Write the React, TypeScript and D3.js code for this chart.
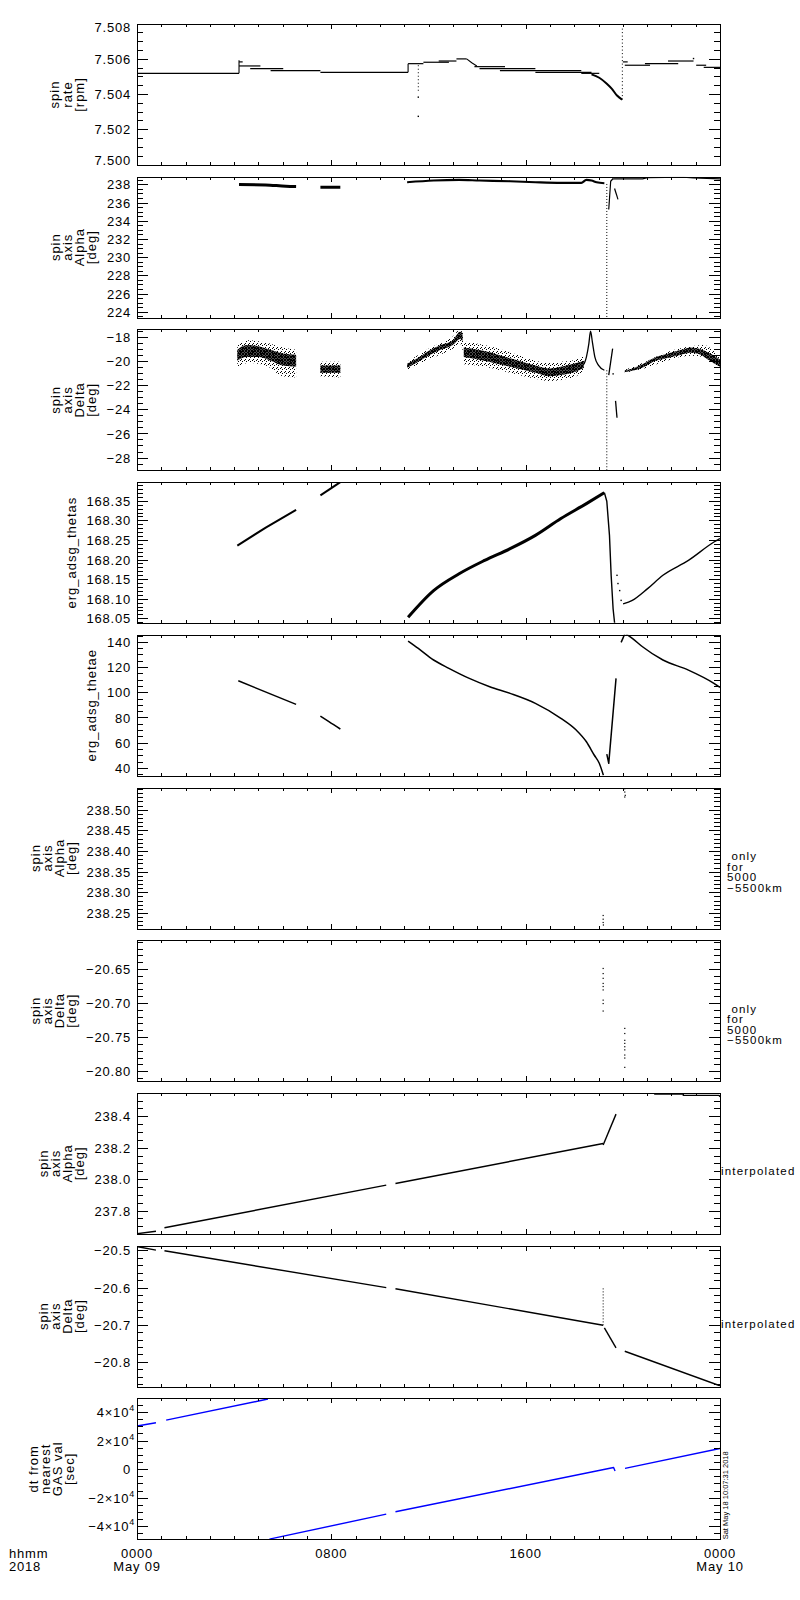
import React from 'react';
import * as d3 from 'd3';

type P = [number, number];
type Run = [number, number, number];
type Band = [number, number, number];

// ---------- x axis ----------
const X_MAJOR = [0, 8, 16, 24];
const X_HHMM = ['0000', '0800', '1600', '0000'];
const X_DATE = ['May 09', '', '', 'May 10'];

// ---------- panel 1 : spin rate [rpm] ----------
const rateTicks = [7.5, 7.502, 7.504, 7.506, 7.508];
const rateRuns: Run[] = [
  [0, 4.2, 7.5052], [4.2, 4.35, 7.50585], [4.2, 5.08, 7.50562], [4.66, 6.02, 7.50547],
  [5.5, 7.55, 7.50535], [7.55, 11.16, 7.50526], [11.16, 11.79, 7.50575], [11.79, 12.84, 7.50583],
  [12.42, 13.15, 7.5059], [13.15, 13.57, 7.50602], [13.89, 15.15, 7.50558], [14.1, 16.4, 7.50547],
  [14.94, 18.29, 7.50535], [16.4, 18.71, 7.50526], [18.29, 19.03, 7.5052], [20.0, 20.2, 7.50585],
  [20.08, 21.12, 7.50566], [20.91, 22.28, 7.50575], [21.86, 22.91, 7.5059], [23.02, 23.43, 7.50566],
  [23.33, 24, 7.50554],
];
const rateCurves: P[][] = [
  [[4.2, 7.5052], [4.2, 7.50595]],
  [[11.16, 7.50526], [11.16, 7.50575]],
  [[13.57, 7.50602], [13.78, 7.5058], [13.99, 7.50562]],
  [[18.71, 7.50514], [19.03, 7.50495], [19.34, 7.50461], [19.55, 7.50432], [19.76, 7.50394], [19.97, 7.50371]],
];
const rateSpikes: Run[] = [[11.58, 7.50566, 7.5042], [19.98, 7.50371, 7.50785]];
const rateDots: P[] = [[11.58, 7.50385], [11.58, 7.50276], [22.91, 7.50604]];

// ---------- panel 2 : spin axis Alpha ----------
const alphaTicks = [224, 226, 228, 230, 232, 234, 236, 238];
const alphaThick: P[][] = [
  [[4.2, 238.04], [5.29, 238.0], [6.13, 237.85], [6.55, 237.82]],
  [[7.55, 237.74], [8.37, 237.74]],
];
const alphaMain: P[] = [[11.12, 238.29], [12.21, 238.48], [13.26, 238.55], [14.1, 238.48], [15.36, 238.4], [16.4, 238.29], [17.45, 238.22], [18.29, 238.22], [18.5, 238.55], [18.71, 238.48], [18.92, 238.29], [19.24, 238.18]];
const alphaThin: P[][] = [
  [[19.42, 235.3], [19.5, 238.4], [19.6, 238.7]],
  [[19.66, 237.6], [19.8, 236.4]],
  [[19.6, 238.66], [20.81, 238.66], [21.02, 238.8], [22.49, 238.84], [22.91, 238.77], [24, 238.66]],
];
const alphaSpikes: Run[] = [[19.34, 238.1, 223.3]];

// ---------- panel 3 : spin axis Delta ----------
const deltaTicks = [-28, -26, -24, -22, -20, -18];
const deltaCore: Band[][] = [
  [[4.13, -19.0, -19.9], [4.5, -18.6, -19.6], [5.0, -18.7, -19.6], [5.5, -19.0, -19.9], [6.0, -19.3, -20.3], [6.55, -19.4, -20.4]],
  [[7.55, -20.3, -20.9], [8.37, -20.3, -20.9]],
  [[11.12, -20.15, -20.5], [11.5, -19.75, -20.1], [12.0, -19.1, -19.5], [12.5, -18.6, -19.0], [13.0, -18.2, -18.6], [13.3, -17.5, -18.1], [13.4, -17.6, -18.3]],
  [[13.45, -18.8, -19.6], [14.3, -19.1, -19.9], [15.36, -19.7, -20.4], [16.4, -20.3, -20.9], [17.0, -20.55, -21.2], [17.45, -20.4, -21.1], [18.08, -20.1, -20.8], [18.4, -19.9, -20.5]],
  [[20.08, -20.7, -20.85], [20.4, -20.55, -20.75], [20.8, -20.2, -20.5], [21.3, -19.65, -19.95], [21.8, -19.35, -19.7], [22.4, -19.0, -19.4], [22.8, -18.8, -19.25], [23.2, -18.95, -19.4], [23.5, -19.2, -19.8], [24, -19.8, -20.4]],
];
const deltaOuter: Band[][] = [
  [[4.13, -18.6, -20.4], [4.6, -18.2, -20.1], [5.3, -18.4, -20.3], [6.0, -18.8, -21.2], [6.55, -19.0, -21.3]],
  [[7.55, -20.0, -21.2], [8.37, -20.0, -21.3]],
  [[11.12, -20.0, -20.7], [12.0, -18.9, -19.8], [13.0, -17.9, -18.9], [13.3, -17.3, -18.5], [13.45, -17.8, -19.5]],
  [[13.45, -18.3, -20.2], [14.3, -18.6, -20.4], [15.36, -19.2, -20.9], [16.4, -19.9, -21.4], [17.0, -20.1, -21.6], [17.45, -20.0, -21.5], [18.08, -19.8, -21.2], [18.4, -19.5, -20.8]],
  [[20.08, -20.65, -20.9], [20.8, -20.1, -20.6], [21.8, -19.2, -19.9], [22.8, -18.7, -19.5], [23.3, -18.6, -19.6], [24, -19.6, -20.6]],
];
const deltaLines: P[][] = [
  [[18.4, -20.2], [18.5, -19.6], [18.6, -18.5], [18.67, -17.45], [18.75, -18.4], [18.85, -19.6], [19.0, -20.3], [19.24, -20.7]],
  [[19.42, -21.1], [19.5, -20.0], [19.58, -18.9]],
  [[19.7, -23.25], [19.76, -24.65]],
];
const deltaSpikes: Run[] = [[19.34, -20.7, -29.05]];
const deltaDots: P[] = [[19.6, -21.0]];

// ---------- panel 4 : erg_adsg_thetas ----------
const thetasTicks = [168.05, 168.1, 168.15, 168.2, 168.25, 168.3, 168.35];
const thetasThin: P[][] = [
  [[4.13, 168.237], [5.3, 168.283], [6.55, 168.328]],
  [[7.55, 168.365], [8.37, 168.399]],
  [[19.24, 168.372], [19.34, 168.35], [19.45, 168.263], [19.52, 168.16], [19.6, 168.075], [19.66, 168.04]],
  [[20.01, 168.088], [20.39, 168.097], [21.02, 168.127], [21.65, 168.161], [22.7, 168.199], [23.75, 168.246], [24.0, 168.255]],
];
const thetasThick: P[] = [[11.16, 168.054], [12.21, 168.122], [13.26, 168.165], [14.31, 168.199], [15.36, 168.229], [16.4, 168.263], [17.45, 168.306], [18.5, 168.344], [19.24, 168.372]];
const thetasDots: P[] = [[19.76, 168.161], [19.8, 168.14], [19.87, 168.122], [19.93, 168.097]];

// ---------- panel 5 : erg_adsg_thetae ----------
const thetaeTicks = [40, 60, 80, 100, 120, 140];
const thetaeLines: P[][] = [
  [[4.17, 109.5], [6.55, 90.8]],
  [[7.55, 81.5], [7.9, 77.0], [8.37, 71.2]],
  [[11.16, 141], [11.58, 135.2], [12.21, 126], [12.84, 119.4], [13.68, 111.4], [14.52, 104.8], [15.36, 99.5], [16.4, 91.6], [17.45, 79.7], [18.08, 70.4], [18.5, 61.1], [18.82, 50.6], [19.03, 44], [19.2, 34.5]],
  [[19.34, 51.3], [19.42, 44], [19.72, 111.4]],
  [[19.93, 140], [20.08, 146.6]],
  [[20.14, 146.6], [20.39, 143.2], [20.81, 136.5], [21.65, 126], [22.7, 118], [23.75, 107.5], [24.0, 104.3]],
];

// ---------- panel 6 : Alpha only 5000-5500 km ----------
const alphaOnlyTicks = [238.25, 238.3, 238.35, 238.4, 238.45, 238.5];
const alphaOnlyDots: P[] = [[19.19, 238.245], [19.19, 238.236], [19.19, 238.228], [19.2, 238.222], [20.08, 238.552], [20.08, 238.544], [20.1, 238.536], [20.08, 238.532]];

// ---------- panel 7 : Delta only 5000-5500 km ----------
const deltaOnlyTicks = [-20.8, -20.75, -20.7, -20.65];
const deltaOnlyDots: P[] = [
  [19.19, -20.6485], [19.19, -20.656], [19.19, -20.663], [19.19, -20.6705], [19.19, -20.675], [19.19, -20.68], [19.19, -20.695], [19.19, -20.7], [19.19, -20.711],
  [20.08, -20.7365], [20.08, -20.744], [20.08, -20.754], [20.08, -20.7585], [20.08, -20.7634], [20.08, -20.768], [20.08, -20.7756], [20.08, -20.78], [20.08, -20.7937],
];

// ---------- panel 8 : Alpha interpolated ----------
const alphaIntTicks = [237.8, 238.0, 238.2, 238.4];
const alphaIntLines: P[][] = [
  [[0, 237.656], [0.78, 237.672]],
  [[1.13, 237.694], [10.26, 237.965]],
  [[10.64, 237.976], [19.19, 238.23]],
  [[19.19, 238.22], [19.72, 238.417]],
  [[21.29, 238.544], [22.49, 238.544], [22.49, 238.536], [23.96, 238.536], [24, 238.527]],
];

// ---------- panel 9 : Delta interpolated ----------
const deltaIntTicks = [-20.8, -20.7, -20.6, -20.5];
const deltaIntLines: P[][] = [
  [[0.04, -20.489], [0.78, -20.498]],
  [[1.13, -20.5], [10.26, -20.599]],
  [[10.64, -20.602], [19.19, -20.7]],
  [[19.24, -20.707], [19.72, -20.761]],
  [[20.08, -20.77], [24, -20.863]],
];
const deltaIntSpikes: Run[] = [[19.19, -20.601, -20.7]];

// ---------- panel 10 : dt from nearest GAS val [sec] ----------
const dtTicks = [-40000, -20000, 0, 20000, 40000];
const dtLines: P[][] = [
  [[0, 30437], [0.78, 32770]],
  [[1.2, 34636], [5.39, 49329]],
  [[5.45, -48630], [10.26, -31137]],
  [[10.64, -29504], [19.62, 1500], [19.68, -1000]],
  [[20.09, 840], [24, 14810]],
];

// ---------- layout ----------
const X0 = 137, X1 = 720;
const TOP0 = 24, STEP = 152.7, PH = 141;
const FONT = "'Liberation Sans', Arial, Helvetica, sans-serif";
const x = d3.scaleLinear().domain([0, 24]).range([X0, X1]);

function estW(s: string, fs = 13, ls = 0.8) {
  let w = 0;
  for (const c of s) {
    let k = 0.556;
    if (c === '.') k = 0.278;
    else if (c === '−' || c === '×') k = 0.584;
    w += k * fs + ls;
  }
  return w;
}
const neg = (s: string) => s.replace('-', '−');

type Panel = {
  domain: [number, number];
  ticks: number[];
  fmt: (v: number) => string;
  minor: number;
  title: string[];
  right?: string[];
  rightKind?: 'block' | 'single';
  sup?: boolean;
  draw: (y: d3.ScaleLinear<number, number>) => React.ReactNode;
};

function Poly({ pts, y, w = 1.2, color = 'black', dash, smooth }: { pts: P[]; y: any; w?: number; color?: string; dash?: string; smooth?: boolean }) {
  const g = d3.line<P>().x((d) => x(d[0])).y((d) => y(d[1]));
  if (smooth) g.curve(d3.curveMonotoneX);
  return <path d={g(pts) || ''} fill="none" stroke={color} strokeWidth={w} strokeDasharray={dash} strokeLinejoin="round" />;
}
function Runs({ runs, y, w = 1.2 }: { runs: Run[]; y: any; w?: number }) {
  return (
    <g>
      {runs.map((r, i) => (
        <line key={i} x1={x(r[0])} x2={x(r[1])} y1={y(r[2])} y2={y(r[2])} stroke="black" strokeWidth={w} />
      ))}
    </g>
  );
}
function Spikes({ sp, y, dash = '1 2' }: { sp: Run[]; y: any; dash?: string }) {
  return (
    <g>
      {sp.map((r, i) => (
        <line key={i} x1={x(r[0])} x2={x(r[0])} y1={y(r[1])} y2={y(r[2])} stroke="black" strokeWidth={1} strokeDasharray={dash} />
      ))}
    </g>
  );
}
function Dots({ pts, y, s = 1.4 }: { pts: P[]; y: any; s?: number }) {
  return (
    <g>
      {pts.map((p, i) => (
        <rect key={i} x={x(p[0]) - s / 2} y={y(p[1]) - s / 2} width={s} height={s} fill="black" />
      ))}
    </g>
  );
}
function Bands({ bands, y, fill }: { bands: Band[][]; y: any; fill: string }) {
  const a = d3.area<Band>().x((d) => x(d[0])).y0((d) => y(d[2])).y1((d) => y(d[1])).curve(d3.curveMonotoneX);
  return (
    <g>
      {bands.map((b, i) => (
        <path key={i} d={a(b) || ''} fill={fill} stroke="none" />
      ))}
    </g>
  );
}

const panels: Panel[] = [
  {
    domain: [7.5, 7.508], ticks: rateTicks, fmt: (v) => v.toFixed(3), minor: 0.0005,
    title: ['spin', 'rate', '[rpm]'],
    draw: (y) => (
      <g>
        <Runs runs={rateRuns} y={y} />
        {rateCurves.map((c, i) => <Poly key={i} pts={c} y={y} w={i === 3 ? 2 : 1.1} smooth={i === 3} />)}
        <Spikes sp={rateSpikes} y={y} dash="1 2.5" />
        <Dots pts={rateDots} y={y} />
      </g>
    ),
  },
  {
    domain: [223.4, 238.9], ticks: alphaTicks, fmt: (v) => v.toFixed(0), minor: 0.5,
    title: ['spin', 'axis', 'Alpha', '[deg]'],
    draw: (y) => (
      <g>
        {alphaThick.map((c, i) => <Poly key={i} pts={c} y={y} w={3} smooth />)}
        <Poly pts={alphaMain} y={y} w={2.2} smooth />
        {alphaThin.map((c, i) => <Poly key={i} pts={c} y={y} w={1.2} />)}
        <Spikes sp={alphaSpikes} y={y} />
      </g>
    ),
  },
  {
    domain: [-29.03, -17.3], ticks: deltaTicks, fmt: (v) => neg(v.toFixed(0)), minor: 0.5,
    title: ['spin', 'axis', 'Delta', '[deg]'],
    draw: (y) => (
      <g>
        <Bands bands={deltaOuter} y={y} fill="url(#sparse)" />
        <Bands bands={deltaCore} y={y} fill="url(#dense)" />
        {deltaLines.map((c, i) => <Poly key={i} pts={c} y={y} w={1.3} smooth={i === 0} />)}
        <Spikes sp={deltaSpikes} y={y} />
        <Dots pts={deltaDots} y={y} />
      </g>
    ),
  },
  {
    domain: [168.039, 168.399], ticks: thetasTicks, fmt: (v) => v.toFixed(2), minor: 0.01,
    title: ['erg_adsg_thetas'],
    draw: (y) => (
      <g>
        <Poly pts={thetasThick} y={y} w={3} smooth />
        {thetasThin.map((c, i) => <Poly key={i} pts={c} y={y} w={i < 2 ? 2 : 1.4} smooth={i === 3} />)}
        <Dots pts={thetasDots} y={y} />
      </g>
    ),
  },
  {
    domain: [34.1, 146], ticks: thetaeTicks, fmt: (v) => v.toFixed(0), minor: 5,
    title: ['erg_adsg_thetae'],
    draw: (y) => <g>{thetaeLines.map((c, i) => <Poly key={i} pts={c} y={y} w={1.5} smooth={i === 2 || i === 5 || i === 1} />)}</g>,
  },
  {
    domain: [238.2135, 238.555], ticks: alphaOnlyTicks, fmt: (v) => v.toFixed(2), minor: 0.01,
    title: ['spin', 'axis', 'Alpha', '[deg]'], right: [' only', 'for', '5000', '−5500km'], rightKind: 'block',
    draw: (y) => <Dots pts={alphaOnlyDots} y={y} s={1.2} />,
  },
  {
    domain: [-20.814, -20.607], ticks: deltaOnlyTicks, fmt: (v) => neg(v.toFixed(2)), minor: 0.01,
    title: ['spin', 'axis', 'Delta', '[deg]'], right: [' only', 'for', '5000', '−5500km'], rightKind: 'block',
    draw: (y) => <Dots pts={deltaOnlyDots} y={y} s={1.2} />,
  },
  {
    domain: [237.655, 238.552], ticks: alphaIntTicks, fmt: (v) => v.toFixed(1), minor: 0.05,
    title: ['spin', 'axis', 'Alpha', '[deg]'], right: ['interpolated'], rightKind: 'single',
    draw: (y) => <g>{alphaIntLines.map((c, i) => <Poly key={i} pts={c} y={y} w={1.4} />)}</g>,
  },
  {
    domain: [-20.865, -20.486], ticks: deltaIntTicks, fmt: (v) => neg(v.toFixed(1)), minor: 0.02,
    title: ['spin', 'axis', 'Delta', '[deg]'], right: ['interpolated'], rightKind: 'single',
    draw: (y) => (
      <g>
        {deltaIntLines.map((c, i) => <Poly key={i} pts={c} y={y} w={1.4} />)}
        <Spikes sp={deltaIntSpikes} y={y} />
      </g>
    ),
  },
  {
    domain: [-48741, 49860], ticks: dtTicks, fmt: (v) => (v === 0 ? '0' : `${v < 0 ? '−' : ''}${Math.abs(v) / 10000}×10`), minor: 5000,
    title: ['dt from', 'nearest', 'GAS val', '[sec]'], sup: true,
    draw: (y) => <g>{dtLines.map((c, i) => <Poly key={i} pts={c} y={y} w={1.4} color="#0000ff" />)}</g>,
  },
];

function PanelView({ p, i }: { p: Panel; i: number }) {
  const top = TOP0 + i * STEP;
  const bottom = top + PH;
  const y = d3.scaleLinear().domain(p.domain).range([bottom, top]);
  const [d0, d1] = p.domain;
  const minors = d3.range(Math.ceil(d0 / p.minor - 1e-6), Math.floor(d1 / p.minor + 1e-6) + 1).map((k) => k * p.minor);
  const isMajor = (v: number) => p.ticks.some((t) => Math.abs(t - v) < p.minor * 0.01);
  const xMinor = d3.range(0, 25);
  const labels = p.ticks.map((t) => p.fmt(t));
  const maxW = Math.max(...labels.map((l, k) => estW(l) + (p.sup && p.ticks[k] !== 0 ? 6 : 0)));
  const labLeft = 131 - maxW;
  const lastC = labLeft - 15;
  const lsp = p.title.length === 3 ? 12.5 : 12;
  const cy = (top + bottom) / 2;
  return (
    <g>
      <clipPath id={`clip${i}`}>
        <rect x={X0} y={top} width={X1 - X0} height={PH} />
      </clipPath>
      <g clipPath={`url(#clip${i})`}>{p.draw(y)}</g>
      <rect x={X0 + 0.5} y={Math.round(top) + 0.5} width={X1 - X0} height={PH} fill="none" stroke="black" strokeWidth={1} />
      <g stroke="black" strokeWidth={1} shapeRendering="crispEdges">
        {minors.map((v, k) => {
          const len = isMajor(v) ? 11 : 6;
          const yy = y(v);
          return (
            <g key={k}>
              <line x1={X0} x2={X0 + len} y1={yy} y2={yy} />
              <line x1={X1} x2={X1 - len} y1={yy} y2={yy} />
            </g>
          );
        })}
        {xMinor.map((h) => {
          const len = X_MAJOR.includes(h) ? 5 : 3;
          const xx = Math.round(x(h)) + 0.5;
          return (
            <g key={h}>
              <line x1={xx} x2={xx} y1={bottom} y2={bottom - len} />
              <line x1={xx} x2={xx} y1={top} y2={top + len} />
            </g>
          );
        })}
      </g>
      <g fontFamily={FONT} fontSize={13} letterSpacing={0.8} fill="black">
        {p.ticks.map((t, k) => {
          const c = Math.min(Math.max(y(t), top + 3.8), bottom - 4.5);
          if (p.sup && t !== 0) {
            return (
              <text key={k} x={135} y={c} dy="0.35em" textAnchor="end">
                {labels[k]}
                <tspan fontSize={9} dy="-6">4</tspan>
              </text>
            );
          }
          return (
            <text key={k} x={131} y={c} dy="0.35em" textAnchor="end">
              {labels[k]}
            </text>
          );
        })}
        {p.title.map((s, k) => {
          const cx = lastC - (p.title.length - 1 - k) * lsp;
          return (
            <text key={`t${k}`} transform={`translate(${cx},${cy}) rotate(-90)`} textAnchor="middle" dy="0.35em" letterSpacing={1}>
              {s}
            </text>
          );
        })}
      </g>
      {p.right && (
        <g fontFamily={FONT} fontSize={11.5} letterSpacing={1.2} fill="black">
          {p.rightKind === 'single' ? (
            <text x={721} y={cy + 12}>{p.right[0]}</text>
          ) : (
            p.right.map((s, k) => (
              <text key={k} x={727} y={cy + 2 + k * 10.5} style={{ whiteSpace: 'pre' }}>
                {s}
              </text>
            ))
          )}
        </g>
      )}
    </g>
  );
}

export default function App() {
  const lastBottom = TOP0 + 9 * STEP + PH;
  return (
    <div style={{ position: 'absolute', left: 0, top: 0, width: 800, height: 1600, background: 'white' }}>
      <svg width={800} height={1600} viewBox="0 0 800 1600" style={{ display: 'block' }}>
        <defs>
          <pattern id="dense" width={3} height={3} patternUnits="userSpaceOnUse">
            <rect x={0} y={0} width={3} height={3} fill="black" fillOpacity={0.7} />
            <rect x={0} y={0} width={1} height={1} fill="black" />
            <rect x={1} y={1} width={1} height={1} fill="black" />
            <rect x={2} y={2} width={1} height={1} fill="black" />
            <rect x={2} y={0} width={1} height={1} fill="black" />
            <rect x={0} y={2} width={1} height={1} fill="black" />
          </pattern>
          <pattern id="sparse" width={4} height={4} patternUnits="userSpaceOnUse">
            <rect x={0} y={0} width={1} height={1} fill="black" />
            <rect x={2} y={1} width={1} height={1} fill="black" />
            <rect x={1} y={3} width={1} height={1} fill="black" />
          </pattern>
        </defs>
        <rect x={0} y={0} width={800} height={1600} fill="white" />
        {panels.map((p, i) => (
          <PanelView key={i} p={p} i={i} />
        ))}
        <g fontFamily={FONT} fontSize={13} letterSpacing={0.8} fill="black">
          <text x={9} y={lastBottom + 19}>hhmm</text>
          <text x={9} y={lastBottom + 31.5}>2018</text>
          {X_MAJOR.map((h, k) => (
            <g key={k}>
              <text x={x(h)} y={lastBottom + 19} textAnchor="middle">{X_HHMM[k]}</text>
              {X_DATE[k] && (
                <text x={x(h)} y={lastBottom + 31.5} textAnchor="middle">{X_DATE[k]}</text>
              )}
            </g>
          ))}
        </g>
        <text transform={`translate(727.5,${lastBottom}) rotate(-90)`} fontFamily={FONT} fontSize={7.5} fill="black">
          Sat May 18 10:07:31 2018
        </text>
      </svg>
    </div>
  );
}
